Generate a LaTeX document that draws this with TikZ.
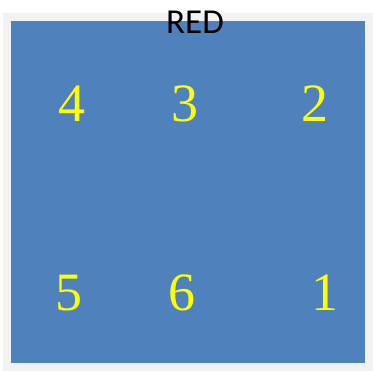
\documentclass[tikz,border=0pt]{standalone}
\usepackage{fontspec}
\setmainfont{Liberation Serif}
\newfontfamily\titlefont{Carlito}
\definecolor{frameg}{HTML}{F2F2F2}
\definecolor{boxblue}{HTML}{4F81BD}
\definecolor{digy}{HTML}{FFFF00}
\begin{document}
\begin{tikzpicture}[x=1pt,y=1pt,
  digit/.style={text=digy,font=\fontsize{54}{54}\selectfont,inner sep=0pt},
  title/.style={text=black,font=\titlefont\fontsize{35}{35}\selectfont,inner sep=0pt}]
\useasboundingbox (0,0) rectangle (373,371);
\fill[white] (0,0) rectangle (373,371);
\fill[frameg] (3,0) rectangle (373,358) ;
\node[fill=boxblue,draw=none,minimum width=354pt,minimum height=342pt,inner sep=0pt,anchor=north west] (box) at (11,350) {};
\node[title] (t) at (195,348.5) {RED};
\node[digit] (d4) at (72,267) {4};
\node[digit] (d3) at (185,267) {3};
\node[digit] (d2) at (315,267) {2};
\node[digit] (d5) at (69,78) {5};
\node[digit] (d6) at (182,78) {6};
\node[digit] (d1) at (325,78) {1};
\end{tikzpicture}
\end{document}
